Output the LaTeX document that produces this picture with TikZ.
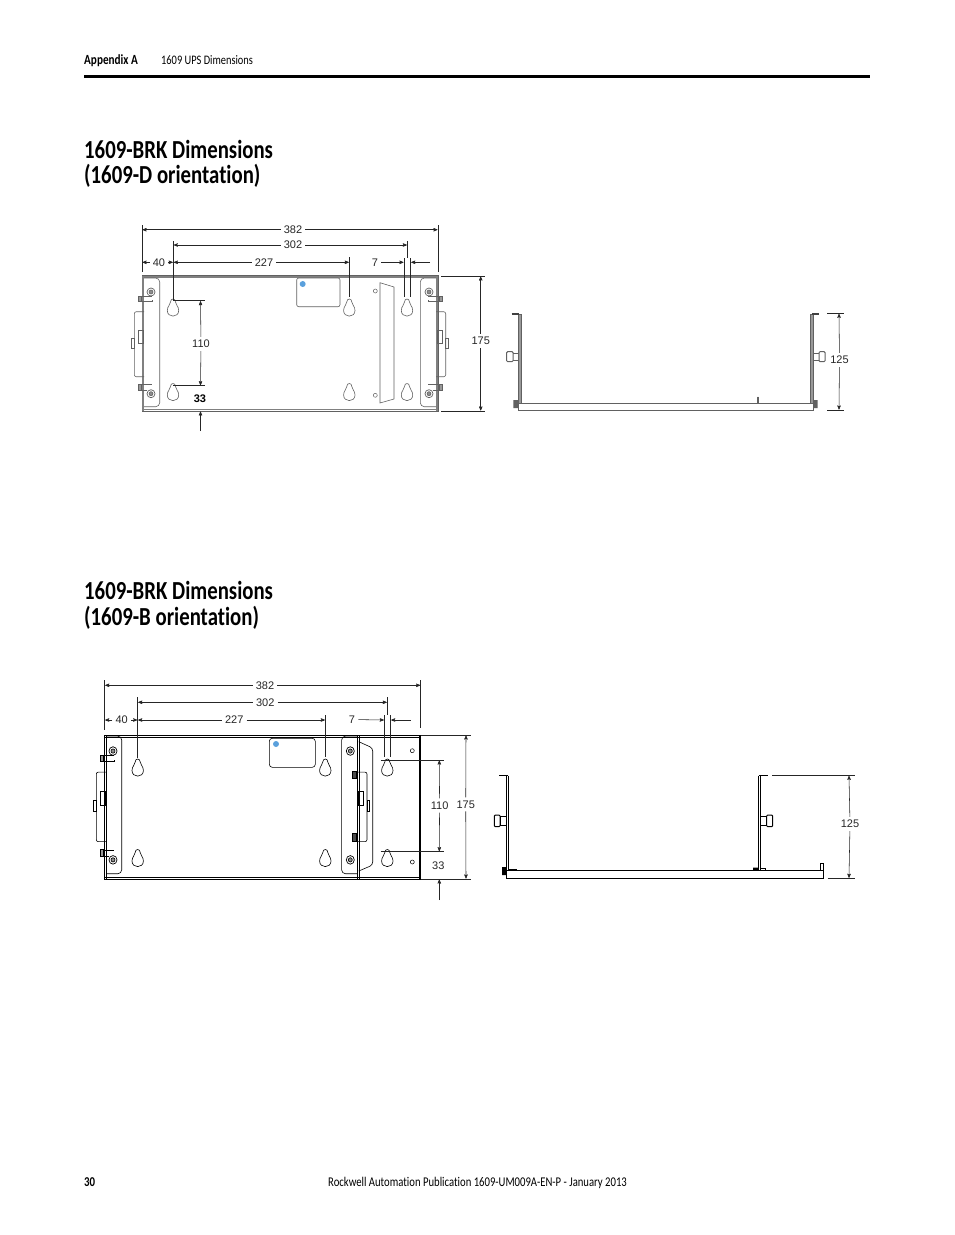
\documentclass[tikz,border=0pt]{standalone}
\usepackage{fontspec}
\setmainfont{Liberation Sans}
\newfontfamily\headfont[FakeStretch=0.8,Ligatures={NoCommon,NoRequired,NoContextual}]{Carlito}
\usetikzlibrary{arrows}

\definecolor{figgray}{gray}{0.38}
\definecolor{dotblue}{RGB}{90,160,220}

% dimension with a label in its gap, extension line, arrow to a free end
\newcommand{\dimpair}[5]{
  \coordinate (#1a) at (#2);
  \coordinate (#1b) at (#3);
  \node[dimlabel] (#1) at (#4) {#5};
  \draw[dimline,->] (#1) -- (#1a);
  \draw[dimline,->] (#1) -- (#1b);
}
\newcommand{\extline}[3]{
  \coordinate (#1a) at (#2);
  \coordinate (#1b) at (#3);
  \draw[dimline] (#1a) -- (#1b);
}
\newcommand{\headline}[3]{
  \node[heading] (#1) at (84,#2) {#3};
}

\tikzset{
  dimline/.style={line width=0.55pt,color=black!85},
  dimlabel/.style={font=\fontsize{11}{11}\selectfont,inner sep=3pt,color=black!85},
  heading/.style={anchor=west,inner sep=0pt,font=\headfont\bfseries\fontsize{26}{26}\selectfont},
  keyhole/.pic={
    \draw[line width=0.6pt] (-2.5,4) .. controls (-2.5,0) and (2.5,0) .. (2.5,4)
      .. controls (2.5,7) and (5.7,8) .. (5.7,12.5)
      .. controls (5.7,20) and (-5.7,20) .. (-5.7,12.5)
      .. controls (-5.7,8) and (-2.5,7) .. cycle;
  },
  bracket/.pic={
    \draw[line width=0.6pt,rounded corners=4pt] (0,-66.3) -- (15.7,-66.3) -- (15.7,62.4) -- (0,62.4);
    \draw[line width=0.6pt,rounded corners=2pt] (0,-32.6) -- (-9.7,-32.6) -- (-9.7,32.4) -- (0,32.4);
    \draw[line width=0.6pt] (-12.3,-6.3) rectangle (-9.7,3.7);
    \draw[line width=0.6pt] (-6,-14.3) rectangle (-1,-1.3);
    \foreach \sy in {-52.3,49.4} {
      \draw[line width=0.7pt,fill=white] (7,\sy) circle (4);
      \draw[line width=0.6pt,fill=black!45] (7,\sy) circle (2);
    }
  },
  boltpair/.pic={
    \draw[line width=0.6pt] (-3,-48.3) -- (8,-48.3) (-3,-42.6) -- (8,-42.6) -- (8,-44);
    \draw[line width=0.8pt,fill=black!40] (-6,-48.3) rectangle (-3,-42.6);
    \draw[line width=0.6pt] (-3,40) -- (8,40) (-3,46) -- (3,46);
    \draw[line width=0.8pt,fill=black!40] (-6,40) rectangle (-3,46);
  }
}

\begin{document}
\begin{tikzpicture}[x=1pt,y=-1pt,>=stealth']
  \useasboundingbox (0,0) rectangle (954,1235);

  % page furniture
  \node[anchor=west,inner sep=0pt,font=\headfont\bfseries\fontsize{14}{14}\selectfont] (chapter) at (84,60.5) {Appendix A};
  \node[anchor=west,inner sep=0pt,font=\headfont\fontsize{13}{13}\selectfont] (section) at (161,60.5) {1609 UPS Dimensions};
  \fill (84,75) rectangle (870,77.8);
  \headline{titleDa}{149}{1609-BRK Dimensions}
  \headline{titleDb}{176}{(1609-D orientation)}
  \headline{titleBa}{590}{1609-BRK Dimensions}
  \headline{titleBb}{617.5}{(1609-B orientation)}
  \node[anchor=west,inner sep=0pt,font=\headfont\bfseries\fontsize{13.5}{13.5}\selectfont] (pageno) at (84,1182.5) {30};
  \node[anchor=west,inner sep=0pt,font=\headfont\fontsize{13.35}{13.35}\selectfont] (footer) at (328,1182.5) {Rockwell Automation Publication 1609-UM009A-EN-P - January 2013};

  % D orientation, front
  \begin{scope}[color=figgray]
    \draw[line width=0.8pt] (142,275.5) rectangle (438,411);
    \draw[line width=1.3pt,color=black!50] (142,277) -- (438,277) (142,409.7) -- (438,409.7);
    \draw[line width=1.4pt,color=black!50] (143,276) -- (143,411) (437,276) -- (437,411);
    \pic[color=figgray] at (144,344.3) {bracket};
    \pic[color=figgray] at (144,344.3) {boltpair};
    \pic[color=figgray,xscale=-1] at (436,344.3) {bracket};
    \pic[color=figgray,xscale=-1] at (436,344.3) {boltpair};
    \foreach \kx in {173,349.3,407} {
      \pic[color=figgray] at (\kx,298) {keyhole};
      \pic[color=figgray] at (\kx,382.5) {keyhole};
    }
    \draw[line width=0.6pt,rounded corners=2pt] (296.7,278) rectangle (340,306.7);
    \draw[line width=0.6pt] (380,282.7) -- (394,287) -- (394,399) -- (380,403) -- cycle;
    \draw[line width=0.5pt] (375.3,291) circle (2) (375.3,395.3) circle (2);
  \end{scope}
  \fill[dotblue] (302.7,284) circle (3);

  \extline{dEa}{142,225}{142,272}
  \extline{dEb}{438,225}{438,272}
  \extline{dEc}{173.3,241}{173.3,300}
  \extline{dEd}{407.3,241}{407.3,258}
  \extline{dEe}{349.3,257}{349.3,297}
  \extline{dEf}{404,258}{404,297}
  \extline{dEg}{410.7,258}{410.7,297}
  \extline{dEh}{173,300.7}{205,300.7}
  \extline{dEi}{173,385.7}{205,385.7}
  \extline{dEj}{441,276}{485,276}
  \extline{dEk}{441,411}{485,411}
  \extline{dEl}{827,313.3}{844,313.3}
  \extline{dEm}{827,410}{844,410}
  \dimpair{dA}{142.5,229.7}{437.5,229.7}{293,229.7}{382}
  \dimpair{dB}{173.8,245}{406.8,245}{293,245}{302}
  \dimpair{dC}{142.5,262.3}{172.8,262.3}{159,262.3}{40}
  \dimpair{dD}{173.8,262.3}{348.8,262.3}{264,262.3}{227}
  \dimpair{dE}{200.5,301.2}{200.5,385.2}{201,344}{110}
  \dimpair{dF}{480.7,276.5}{480.7,410.5}{480.7,341}{175}
  \dimpair{dG}{839,313.8}{839,409.5}{839.5,360}{125}
  \node[dimlabel] (dH) at (375,262.3) {7};
  \coordinate (dHa) at (403.5,262.3);
  \coordinate (dIs) at (430,262.3);
  \coordinate (dIa) at (411.2,262.3);
  \draw[dimline,->] (dH) -- (dHa);
  \draw[dimline,->] (dIs) -- (dIa);
  \node[dimlabel,text=black,font=\bfseries\fontsize{11}{11}\selectfont] (dJ) at (200,398.5) {33};
  \coordinate (dJs) at (200.5,431);
  \coordinate (dJa) at (200.5,411.5);
  \draw[dimline,->] (dJs) -- (dJa);

  % D orientation, side
  \begin{scope}[color=figgray]
    \draw[line width=0.7pt,fill=black!40] (518.3,314) rectangle (521,403);
    \draw[line width=0.7pt,fill=black!40] (810.5,314) rectangle (813.3,403);
    \draw[line width=1.2pt,color=black!75] (511.7,314) -- (519,314) (812,314) -- (819.3,314);
    \draw[line width=1pt] (518.3,403) rectangle (813.3,410);
    \draw[line width=0.7pt] (513,353) -- (518.3,353) (513,360.5) -- (518.3,360.5);
    \draw[line width=1pt,rounded corners=1pt] (506.7,351.7) rectangle (513,361.7);
    \draw[line width=0.7pt] (813.3,353) -- (819,353) (813.3,360.5) -- (819,360.5);
    \draw[line width=1pt,rounded corners=1pt] (819,351.7) rectangle (825,361.7);
    \fill (513.3,400) rectangle (518,408) (813.5,400) rectangle (817.7,408);
    \draw[line width=0.5pt] (757.3,396.7) -- (757.3,403) (758.6,396.7) -- (758.6,403);
  \end{scope}

  % B orientation, front
  \draw[line width=0.8pt] (104.7,735) rectangle (420.5,879);
  \draw[line width=0.6pt] (104.7,737) -- (420.5,737) (104.7,877) -- (420.5,877);
  \draw[line width=0.6pt] (106.5,735) -- (106.5,879) (418.8,735) -- (418.8,879);
  \pic at (106,807) [yscale=1.07] {bracket};
  \pic at (106,807) [yscale=1.07] {boltpair};
  \pic at (357.3,807) [xscale=-1,yscale=1.07] {bracket};
  \draw[line width=0.6pt] (357.3,735) -- (357.3,879) (358.8,735) -- (358.8,879);
  \draw[line width=0.6pt,fill=black!70] (352,771.7) rectangle (356.7,778.3) (352,833) rectangle (356.7,841.7);
  \draw[line width=0.6pt,rounded corners=3pt] (358.8,741.7) -- (372.7,748) -- (372.7,865) -- (358.8,871);
  \foreach \kx in {137.7,325.3,387.3} {
    \pic at (\kx,758) {keyhole};
    \pic at (\kx,848.5) {keyhole};
  }
  \draw[line width=0.6pt,rounded corners=3pt] (269.3,738.3) rectangle (315.3,767.3);
  \draw[line width=0.5pt] (412.3,750.7) circle (2) (412.3,862) circle (2);
  \fill[dotblue] (276,744) circle (3);

  \extline{bEa}{104.7,680}{104.7,730}
  \extline{bEb}{420.7,680}{420.7,728}
  \extline{bEc}{137.7,697}{137.7,758}
  \extline{bEd}{387.3,697}{387.3,715}
  \extline{bEe}{325.3,715}{325.3,757}
  \extline{bEf}{384.3,715}{384.3,757}
  \extline{bEg}{390.7,715}{390.7,757}
  \extline{bEh}{380.7,760}{444,760}
  \extline{bEi}{380.7,851.7}{444,851.7}
  \extline{bEj}{420.7,735}{470.7,735}
  \extline{bEk}{420.7,879}{470.7,879}
  \extline{bEl}{772,775.3}{855,775.3}
  \extline{bEm}{827.7,878.3}{855,878.3}
  \dimpair{bA}{105.2,685.3}{420.2,685.3}{265,685.3}{382}
  \dimpair{bB}{138.2,702.3}{386.8,702.3}{265.3,702.3}{302}
  \dimpair{bC}{105.2,720}{137.2,720}{121.7,720}{40}
  \dimpair{bD}{138.2,720}{324.8,720}{234.3,720}{227}
  \dimpair{bE}{439.3,760.5}{439.3,851.2}{439.6,805.5}{110}
  \dimpair{bF}{466,735.5}{466,878.5}{465.7,804.3}{175}
  \dimpair{bG}{849,775.8}{849,877.8}{850,824}{125}
  \node[dimlabel] (bH) at (352,719.5) {7};
  \coordinate (bHa) at (383.8,720);
  \coordinate (bIs) at (410.7,720);
  \coordinate (bIa) at (391.2,720);
  \draw[dimline,->] (bH) -- (bHa);
  \draw[dimline,->] (bIs) -- (bIa);
  \node[dimlabel] (bJ) at (438.3,865.5) {33};
  \coordinate (bJs) at (439.3,900);
  \coordinate (bJa) at (439.3,879.5);
  \draw[dimline,->] (bJs) -- (bJa);

  % B orientation, side
  \draw[line width=0.7pt] (506.7,775.7) -- (506.7,870) (508.7,775.7) -- (508.7,870);
  \draw[line width=0.7pt] (758.3,775.7) -- (758.3,870) (760.3,775.7) -- (760.3,870);
  \draw[line width=1.3pt] (499.3,775.7) -- (508,775.7) (759.3,775.7) -- (768.3,775.7);
  \draw[line width=0.8pt] (506.7,870) rectangle (823.3,878.3);
  \draw[line width=0.6pt] (820,870) -- (820,863.3) -- (823.3,863.3) -- (823.3,870);
  \draw[line width=0.7pt] (500,816.7) rectangle (506.7,825);
  \draw[line width=1pt,rounded corners=1pt] (494.3,815) rectangle (500,826.7);
  \draw[line width=0.7pt] (760.3,816.7) rectangle (766.7,825);
  \draw[line width=1pt,rounded corners=1pt] (766.7,815) rectangle (772.7,826.7);
  \fill (502,867) rectangle (506.7,875) (753,867.5) rectangle (758.3,870);
  \draw[line width=0.6pt] (760.3,868) -- (765,868) -- (765,870);
  \draw[line width=1.2pt] (508.7,869.5) -- (516.5,869.5);
\end{tikzpicture}
\end{document}
